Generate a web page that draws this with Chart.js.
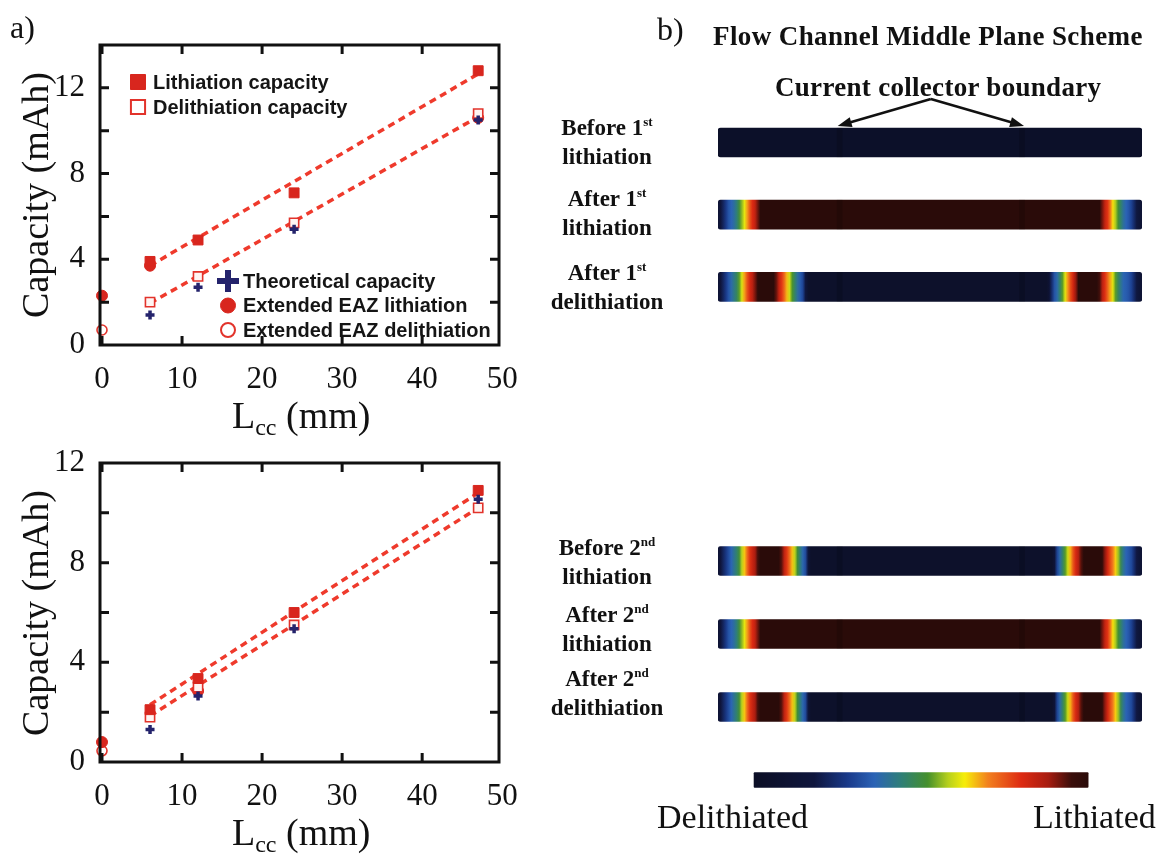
<!DOCTYPE html>
<html>
<head>
<meta charset="utf-8">
<script src="https://cdn.jsdelivr.net/npm/chart.js@4.4.1/dist/chart.umd.min.js"></script>
<style>
  body { margin: 0; background: #fff; }
  #page { position: relative; width: 1159px; height: 856px; overflow: hidden; color: #111;
          font-family: "Liberation Serif", "Times New Roman", serif; }
  .box { position: absolute; }
  .txt { position: absolute; white-space: nowrap; line-height: 1; }
  .ytitle { font-size: 38px; transform: translate(-50%, -50%) rotate(-90deg); }
  .xtitle { font-size: 38px; }
  .xtitle sub { font-size: 24px; vertical-align: -7px; line-height: 0; }
  .panel { font-size: 32px; }
  .head { font-weight: bold; }
  .strip-lbl { position: absolute; width: 170px; left: 522px; text-align: center; font-weight: bold;
               font-size: 23px; line-height: 29px; white-space: nowrap; }
  .strip-lbl sup { font-size: 13px; vertical-align: 9px; line-height: 0; }
  .end-lbl { font-size: 34px; }
</style>
</head>
<body>
<div id="page">
  <div class="box" style="left:0;top:0;width:530px;height:440px"><canvas id="cap1"></canvas></div>
  <div class="box" style="left:0;top:420px;width:530px;height:436px"><canvas id="cap2"></canvas></div>
  <div class="box" style="left:540px;top:0;width:619px;height:340px"><canvas id="strips1"></canvas></div>
  <div class="box" style="left:540px;top:500px;width:619px;height:356px"><canvas id="strips2"></canvas></div>

  <div class="txt panel" style="left:10px;top:11px">a)</div>
  <div class="txt panel" style="left:657px;top:13px">b)</div>

  <div class="txt ytitle" style="left:35px;top:195px">Capacity (mAh)</div>
  <div class="txt ytitle" style="left:35px;top:613px">Capacity (mAh)</div>
  <div class="txt xtitle" style="left:232px;top:396px">L<sub>cc</sub> (mm)</div>
  <div class="txt xtitle" style="left:232px;top:813px">L<sub>cc</sub> (mm)</div>

  <div class="txt head" style="left:713px;top:23px;font-size:27px;letter-spacing:0.4px">Flow Channel Middle Plane Scheme</div>
  <div class="txt head" style="left:775px;top:74px;font-size:27px;letter-spacing:0.3px">Current collector boundary</div>

  <div class="strip-lbl" style="top:113px">Before 1<sup>st</sup><br>lithiation</div>
  <div class="strip-lbl" style="top:184px">After 1<sup>st</sup><br>lithiation</div>
  <div class="strip-lbl" style="top:258px">After 1<sup>st</sup><br>delithiation</div>
  <div class="strip-lbl" style="top:533px">Before 2<sup>nd</sup><br>lithiation</div>
  <div class="strip-lbl" style="top:600px">After 2<sup>nd</sup><br>lithiation</div>
  <div class="strip-lbl" style="top:664px">After 2<sup>nd</sup><br>delithiation</div>

  <div class="txt end-lbl" style="left:657px;top:800px">Delithiated</div>
  <div class="txt end-lbl" style="left:1033px;top:800px">Lithiated</div>
</div>

<script>
// current collector length (mm)
const lenMm = [6, 12, 24, 47];
const fitMm = [6, 47];

// first cycle
const lithCap1 = [3.9, 4.9, 7.1, 12.8];
const delithCap1 = [2.0, 3.2, 5.7, 10.8];
const theoCap1 = [1.4, 2.7, 5.4, 10.5];
const eazLithMm1 = [0, 6, 47];
const eazLith1 = [2.3, 3.7, 10.6];
const eazDelithMm1 = [0];
const eazDelith1 = [0.7];
const lithFit1 = [3.7, 12.65];
const delithFit1 = [1.95, 10.65];

// second cycle
const lithCap2 = [2.1, 3.35, 6.0, 10.9];
const delithCap2 = [1.8, 3.0, 5.5, 10.2];
const theoCap2 = [1.3, 2.65, 5.35, 10.55];
const eazLithMm2 = [0, 12];
const eazLith2 = [0.8, 2.85];
const eazDelithMm2 = [0];
const eazDelith2 = [0.45];
const lithFit2 = [2.3, 10.8];
const delithFit2 = [1.85, 10.2];

const xTicks = [0, 10, 20, 30, 40, 50];
const yTicks1 = [0, 2, 4, 6, 8, 10, 12, 14];
const yTicks2 = [0, 2, 4, 6, 8, 10, 12];
const yLabelled = [0, 4, 8, 12];

// lithiation level along the channel middle plane: [position 0..1, level 0..1]
const stripNames1 = ['Before 1st lithiation', 'After 1st lithiation', 'After 1st delithiation'];
const stripNames2 = ['Before 2nd lithiation', 'After 2nd lithiation', 'After 2nd delithiation', 'Level scale'];
const fresh = [[0, 0.02], [1, 0.02]];
const firstLith = [[0, 0.1], [0.012, 0.22], [0.025, 0.33], [0.04, 0.4], [0.052, 0.52], [0.064, 0.63],
  [0.078, 0.78], [0.09, 0.86], [0.1, 1], [0.9, 1], [0.91, 0.86], [0.92, 0.78], [0.932, 0.63],
  [0.943, 0.52], [0.958, 0.38], [0.972, 0.32], [0.988, 0.18], [1, 0.1]];
const firstDelith = [[0, 0.1], [0.012, 0.22], [0.026, 0.34], [0.046, 0.48], [0.058, 0.63], [0.072, 0.79],
  [0.085, 0.88], [0.095, 1], [0.132, 1], [0.142, 0.86], [0.153, 0.76], [0.166, 0.63], [0.177, 0.5],
  [0.19, 0.37], [0.2, 0.3], [0.214, 0.04], [0.778, 0.04], [0.79, 0.3], [0.8, 0.38], [0.81, 0.5],
  [0.82, 0.63], [0.833, 0.78], [0.842, 0.86], [0.85, 1], [0.896, 1], [0.906, 0.86], [0.916, 0.76],
  [0.93, 0.63], [0.94, 0.5], [0.955, 0.37], [0.972, 0.32], [0.988, 0.18], [1, 0.1]];
const secondStart = [[0, 0.1], [0.012, 0.22], [0.028, 0.34], [0.048, 0.48], [0.06, 0.63], [0.075, 0.79],
  [0.088, 0.88], [0.099, 1], [0.145, 1], [0.155, 0.86], [0.165, 0.76], [0.178, 0.63], [0.188, 0.5],
  [0.2, 0.37], [0.208, 0.3], [0.218, 0.04], [0.79, 0.04], [0.8, 0.3], [0.808, 0.4], [0.818, 0.52],
  [0.828, 0.63], [0.84, 0.78], [0.85, 0.86], [0.862, 1], [0.905, 1], [0.915, 0.86], [0.925, 0.76],
  [0.94, 0.63], [0.948, 0.5], [0.96, 0.37], [0.974, 0.32], [0.988, 0.18], [1, 0.1]];
const secondLith = firstLith;
const secondDelith = secondStart;
const levelRamp = [[0, 0], [1, 1]];
const collectorEdges = [0.287, 0.717];
const rampSpan = [0.085, 0.873];

const levelStops = [0, 0.18, 0.28, 0.36, 0.44, 0.52, 0.58, 0.63, 0.7, 0.8, 0.88, 0.95, 1];
const levelColours = ['#0c0f26', '#0f163d', '#1a3a8a', '#2b63b6', '#2f7f78', '#45902c', '#b5cf1e',
  '#f6ee0a', '#f2801f', '#dd2a12', '#a81c10', '#3a0e0a', '#2a0b09'];

const red = '#d8261e';
const fitRed = '#ef3a2c';
const navy = '#24236c';
const tickFont = { family: '"Liberation Serif", "Times New Roman", serif', size: 31 };

function hexRgb(h) {
  const n = parseInt(h.slice(1), 16);
  return [n >> 16, (n >> 8) & 255, n & 255];
}

function levelColour(v) {
  let i = 1;
  while (i < levelStops.length - 1 && v > levelStops[i]) i++;
  const t = Math.min(1, Math.max(0, (v - levelStops[i - 1]) / (levelStops[i] - levelStops[i - 1])));
  const a = hexRgb(levelColours[i - 1]), b = hexRgb(levelColours[i]);
  const c = a.map((x, k) => Math.round(x + (b[k] - x) * t));
  return `rgb(${c[0]},${c[1]},${c[2]})`;
}

function profileAt(profile, t) {
  for (let i = 1; i < profile.length; i++) {
    if (t <= profile[i][0]) {
      const [p0, v0] = profile[i - 1], [p1, v1] = profile[i];
      return p1 === p0 ? v1 : v0 + (v1 - v0) * (t - p0) / (p1 - p0);
    }
  }
  return profile[profile.length - 1][1];
}

function pts(xs, ys) {
  return xs.map((x, i) => ({ x: x, y: ys[i] }));
}

// boxed frame with inward tick marks on all four sides
const frameTicks = {
  id: 'frameTicks',
  afterDatasetsDraw(chart) {
    const { ctx, chartArea: a, scales } = chart;
    const len = 9;
    ctx.save();
    ctx.strokeStyle = '#111';
    ctx.lineWidth = 3;
    ctx.strokeRect(a.left, a.top, a.right - a.left, a.bottom - a.top);
    ctx.beginPath();
    scales.x.ticks.forEach(t => {
      const px = scales.x.getPixelForValue(t.value);
      if (px <= a.left + 1 || px >= a.right - 1) return;
      ctx.moveTo(px, a.bottom); ctx.lineTo(px, a.bottom - len);
      ctx.moveTo(px, a.top); ctx.lineTo(px, a.top + len);
    });
    scales.y.ticks.forEach(t => {
      const py = scales.y.getPixelForValue(t.value);
      if (py >= a.bottom - 1 || py <= a.top + 1) return;
      ctx.moveTo(a.left, py); ctx.lineTo(a.left + len, py);
      ctx.moveTo(a.right, py); ctx.lineTo(a.right - len, py);
    });
    ctx.stroke();
    ctx.restore();
  }
};

// marker legend placed inside the plot
function insetLegend(groups) {
  return {
    id: 'insetLegend',
    afterDraw(chart) {
      const { ctx, chartArea: a } = chart;
      ctx.save();
      ctx.font = 'bold 20px "Liberation Sans", Arial, sans-serif';
      ctx.textBaseline = 'middle';
      groups.forEach(g => {
        g.items.forEach((it, i) => {
          const x = a.left + g.x, y = a.top + g.y + i * g.gap;
          ctx.fillStyle = it.fill;
          ctx.strokeStyle = it.stroke;
          ctx.lineWidth = it.width;
          Chart.helpers.drawPoint(ctx, { pointStyle: it.style, radius: it.radius, borderWidth: it.width, rotation: 0 }, x, y);
          ctx.fillStyle = '#151515';
          ctx.fillText(it.label, x + 15, y + 1);
        });
      });
      ctx.restore();
    }
  };
}

function capacitySets(lith, delith, theo, eazLx, eazL, eazDx, eazD, lithFit, delithFit) {
  return [
    { label: 'Theoretical capacity', data: pts(lenMm, theo), pointStyle: 'cross', pointRadius: 4.5,
      borderColor: navy, backgroundColor: navy, pointBorderWidth: 3.5, clip: false },
    { label: 'Lithiation capacity', data: pts(lenMm, lith), pointStyle: 'rect', pointRadius: 7,
      backgroundColor: red, borderColor: red, pointBorderWidth: 1, clip: false },
    { label: 'Delithiation capacity', data: pts(lenMm, delith), pointStyle: 'rect', pointRadius: 6.5,
      backgroundColor: '#fff5f3', borderColor: '#e2332b', pointBorderWidth: 1.6, clip: false },
    { label: 'Extended EAZ lithiation', data: pts(eazLx, eazL), pointStyle: 'circle', pointRadius: 5.5,
      backgroundColor: red, borderColor: red, pointBorderWidth: 1, clip: false },
    { label: 'Extended EAZ delithiation', data: pts(eazDx, eazD), pointStyle: 'circle', pointRadius: 5,
      backgroundColor: '#fff', borderColor: '#e2332b', pointBorderWidth: 1.6, clip: false },
    { label: 'Lithiation fit', data: pts(fitMm, lithFit), showLine: true, pointRadius: 0,
      borderColor: fitRed, borderWidth: 3.5, borderDash: [7, 5] },
    { label: 'Delithiation fit', data: pts(fitMm, delithFit), showLine: true, pointRadius: 0,
      borderColor: fitRed, borderWidth: 3.5, borderDash: [7, 5] }
  ];
}

function capacityChart(id, sets, yMax, yTicks, pad, legendPlugin) {
  return new Chart(document.getElementById(id), {
    type: 'scatter',
    data: { datasets: sets },
    options: {
      animation: false,
      responsive: true,
      maintainAspectRatio: false,
      layout: { padding: { top: pad.top, right: pad.right, left: 0, bottom: 0 } },
      plugins: { legend: { display: false }, tooltip: { enabled: false } },
      scales: {
        x: {
          type: 'linear', min: -0.25, max: 49.6,
          afterBuildTicks: s => { s.ticks = xTicks.map(v => ({ value: v })); },
          afterFit: s => { s.height = pad.xHeight; },
          grid: { display: false },
          border: { display: false },
          ticks: { font: tickFont, color: '#111', padding: 8, maxRotation: 0, autoSkip: false }
        },
        y: {
          type: 'linear', min: 0, max: yMax,
          afterBuildTicks: s => { s.ticks = yTicks.map(v => ({ value: v })); },
          afterFit: s => { s.width = 100; },
          grid: { display: false },
          border: { display: false },
          ticks: { font: tickFont, color: '#111', padding: 7, autoSkip: false,
                   callback: v => yLabelled.includes(v) ? v : '' }
        }
      }
    },
    plugins: legendPlugin ? [frameTicks, legendPlugin] : [frameTicks]
  });
}

const legend1 = insetLegend([
  { x: 38, y: 37, gap: 25, items: [
    { label: 'Lithiation capacity', style: 'rect', radius: 10.6, fill: red, stroke: red, width: 1 },
    { label: 'Delithiation capacity', style: 'rect', radius: 10, fill: '#fff', stroke: '#e2332b', width: 2 }
  ] },
  { x: 128, y: 236, gap: 24.5, items: [
    { label: 'Theoretical capacity', style: 'cross', radius: 11, fill: navy, stroke: navy, width: 6 },
    { label: 'Extended EAZ lithiation', style: 'circle', radius: 7.5, fill: red, stroke: red, width: 1 },
    { label: 'Extended EAZ delithiation', style: 'circle', radius: 7, fill: '#fff', stroke: '#e2332b', width: 2 }
  ] }
]);

capacityChart('cap1',
  capacitySets(lithCap1, delithCap1, theoCap1, eazLithMm1, eazLith1, eazDelithMm1, eazDelith1, lithFit1, delithFit1),
  14, yTicks1, { top: 45, right: 31, xHeight: 95 }, legend1);

capacityChart('cap2',
  capacitySets(lithCap2, delithCap2, theoCap2, eazLithMm2, eazLith2, eazDelithMm2, eazDelith2, lithFit2, delithFit2),
  12, yTicks2, { top: 43, right: 31, xHeight: 94 }, null);

// ---- channel strips ----
function stripFill(ctx) {
  const chart = ctx.chart;
  if (!chart.chartArea || !ctx.raw) return '#0c0f26';
  const profile = ctx.dataset.profiles[ctx.dataIndex];
  const x0 = chart.scales.x.getPixelForValue(ctx.raw[0]);
  const x1 = chart.scales.x.getPixelForValue(ctx.raw[1]);
  const g = chart.ctx.createLinearGradient(x0, 0, x1, 0);
  for (let i = 0; i <= 160; i++) {
    const t = i / 160;
    g.addColorStop(t, levelColour(profileAt(profile, t)));
  }
  return g;
}

// faint shadow where the current collector ends
function edgeSets(n) {
  return collectorEdges.map(e => ({
    data: Array.from({ length: 4 }, (_, i) => (i < n ? [e - 0.006, e + 0.006] : null)),
    backgroundColor: 'rgba(0,0,0,0.16)', barThickness: 29, grouped: false, order: 1, skipNull: true
  }));
}

const collectorArrow = {
  id: 'collectorArrow',
  afterDraw(chart) {
    const { ctx, scales } = chart;
    const bar = chart.getDatasetMeta(0).data[0];
    const top = bar.y - 15.5;
    const tips = collectorEdges.map(e => scales.x.getPixelForValue(e));
    const apex = { x: (tips[0] + tips[1]) / 2, y: top - 28 };
    ctx.save();
    ctx.strokeStyle = '#111';
    ctx.fillStyle = '#111';
    ctx.lineWidth = 2.5;
    tips.forEach((tx, i) => {
      const end = { x: tx + (i === 0 ? -2 : 2), y: top - 1 };
      const ang = Math.atan2(end.y - apex.y, end.x - apex.x);
      ctx.beginPath();
      ctx.moveTo(apex.x, apex.y);
      ctx.lineTo(end.x - 8 * Math.cos(ang), end.y - 8 * Math.sin(ang));
      ctx.stroke();
      ctx.beginPath();
      ctx.moveTo(end.x, end.y);
      ctx.lineTo(end.x - 14 * Math.cos(ang) + 5 * Math.sin(ang), end.y - 14 * Math.sin(ang) - 5 * Math.cos(ang));
      ctx.lineTo(end.x - 14 * Math.cos(ang) - 5 * Math.sin(ang), end.y - 14 * Math.sin(ang) + 5 * Math.cos(ang));
      ctx.closePath();
      ctx.fill();
    });
    ctx.restore();
  }
};

function stripOptions(pad) {
  return {
    indexAxis: 'y',
    animation: false,
    responsive: true,
    maintainAspectRatio: false,
    layout: { padding: pad },
    plugins: { legend: { display: false }, tooltip: { enabled: false } },
    scales: {
      x: { type: 'linear', min: 0, max: 1, display: false },
      y: { type: 'category', display: false }
    }
  };
}

new Chart(document.getElementById('strips1'), {
  type: 'bar',
  data: {
    labels: stripNames1,
    datasets: [
      { data: stripNames1.map(() => [0, 1]), profiles: [fresh, firstLith, firstDelith],
        backgroundColor: stripFill, barThickness: 29, grouped: false, order: 2,
        borderRadius: 3, borderSkipped: false },
      ...edgeSets(3)
    ]
  },
  options: stripOptions({ left: 178, right: 17, top: 106.4, bottom: 17 }),
  plugins: [collectorArrow]
});

new Chart(document.getElementById('strips2'), {
  type: 'bar',
  data: {
    labels: stripNames2,
    datasets: [
      { data: [[0, 1], [0, 1], [0, 1], null], profiles: [secondStart, secondLith, secondDelith, null],
        backgroundColor: stripFill, barThickness: 29, grouped: false, order: 2, skipNull: true,
        borderRadius: 3, borderSkipped: false },
      { data: [null, null, null, rampSpan], profiles: [null, null, null, levelRamp],
        backgroundColor: stripFill, barThickness: 15, grouped: false, order: 2, skipNull: true,
        borderRadius: 1, borderSkipped: false },
      ...edgeSets(3)
    ]
  },
  options: stripOptions({ left: 178, right: 17, top: 24.5, bottom: 39.5 })
});
</script>
</body>
</html>
